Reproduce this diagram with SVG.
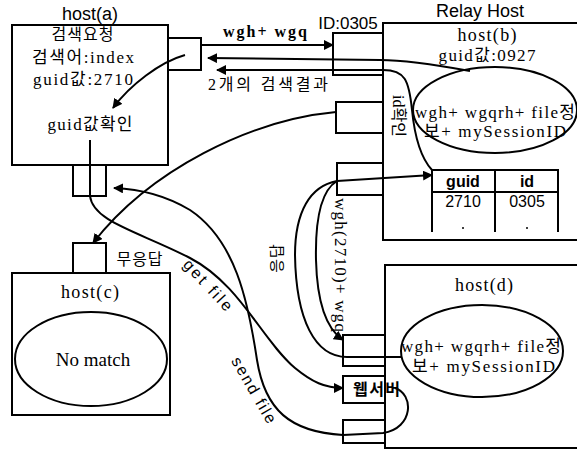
<svg xmlns="http://www.w3.org/2000/svg" width="577" height="450" viewBox="0 0 577 450">
<defs>
<style>
.box{fill:none;stroke:#000;stroke-width:2}
.ln{fill:none;stroke:#000;stroke-width:2}
.sf{font-family:"Liberation Serif","Noto Sans CJK KR",serif;fill:#000}
.ss{font-family:"Liberation Sans","Noto Sans CJK KR",sans-serif;fill:#000}
.m{text-anchor:middle}
</style>
<marker id="ah" viewBox="0 0 10 10" refX="9" refY="5" markerWidth="5" markerHeight="5" orient="auto" markerUnits="strokeWidth">
<path d="M0,0 L10,5 L0,10 z" fill="#000"/>
</marker>
</defs>
<rect width="577" height="450" fill="#fff"/>

<g id="host-a">
<rect class="box" x="12" y="25" width="156" height="140"/>
<text class="ss m" x="90" y="20" font-size="18">host(a)</text>
<text class="sf m" x="83" y="40" font-size="16" letter-spacing="1">검색요청</text>
<text class="sf m" x="83" y="63" font-size="17" textLength="102" lengthAdjust="spacing">검색어:index</text>
<text class="sf m" x="83" y="85" font-size="17" textLength="100" lengthAdjust="spacing">guid값:2710</text>
<text class="sf m" x="90" y="130" font-size="17" textLength="85" lengthAdjust="spacing">guid값확인</text>
<rect class="box" x="168" y="38" width="33" height="32"/>
<rect class="box" x="73" y="165" width="33" height="31"/>
</g>

<g id="host-b">
<rect class="box" x="383" y="23" width="200" height="217"/>
<text class="ss m" x="480" y="17" font-size="18">Relay Host</text>
<text class="sf m" x="487" y="41" font-size="18" textLength="59" lengthAdjust="spacing">host(b)</text>
<text class="sf m" x="487" y="61" font-size="17" textLength="97" lengthAdjust="spacing">guid값:0927</text>
<ellipse class="box" cx="495" cy="110" rx="82" ry="43"/>
<text class="sf" x="415" y="118" font-size="17" textLength="160" lengthAdjust="spacing">wgh+ wgqrh+ file정</text>
<text class="sf" x="424" y="137" font-size="17" textLength="142" lengthAdjust="spacing">보+ mySessionID</text>
<path class="ln" d="M432,232 V170 H558 V232 M495,170 V232 M432,192 H558"/>
<text class="ss m" x="463" y="187" font-size="16" font-weight="bold">guid</text>
<text class="ss m" x="527" y="187" font-size="16" font-weight="bold">id</text>
<text class="ss m" x="463" y="207" font-size="16">2710</text>
<text class="ss m" x="527" y="207" font-size="16">0305</text>
<circle cx="463" cy="228" r="1" fill="#000"/>
<circle cx="527" cy="228" r="1" fill="#000"/>
<rect class="box" x="333" y="33" width="50" height="42"/>
<rect class="box" x="336" y="102" width="47" height="31"/>
<rect class="box" x="337" y="163" width="46" height="32"/>
<text class="ss m" x="348" y="29" font-size="17">ID:0305</text>
</g>

<g id="host-c">
<rect class="box" x="12" y="273" width="158" height="142"/>
<text class="sf m" x="90" y="298" font-size="18" textLength="58" lengthAdjust="spacing">host(c)</text>
<ellipse class="box" cx="91" cy="359" rx="76" ry="47"/>
<text class="sf m" x="93" y="366" font-size="19">No match</text>
<rect class="box" x="73" y="243" width="33" height="30"/>
<text class="sf m" x="140" y="265" font-size="16" letter-spacing="1">무응답</text>
</g>

<g id="host-d">
<rect class="box" x="385" y="265" width="200" height="183"/>
<text class="sf m" x="484" y="291" font-size="18" textLength="58" lengthAdjust="spacing">host(d)</text>
<ellipse class="box" cx="482" cy="351" rx="81" ry="46"/>
<text class="sf" x="401" y="352" font-size="17" textLength="160" lengthAdjust="spacing">wgh+ wgqrh+ file정</text>
<text class="sf" x="412" y="372" font-size="17" textLength="143" lengthAdjust="spacing">보+ mySessionID</text>
<rect class="box" x="343" y="335" width="42" height="31"/>
<rect class="box" x="343" y="376" width="42" height="27"/>
<rect class="box" x="343" y="420" width="42" height="23"/>
<text class="sf" x="353" y="395" font-size="16" font-weight="bold" textLength="47" lengthAdjust="spacing">웹서버</text>
</g>

<g id="connectors">
<path class="ln" d="M185,55 C160,62 130,85 113,108" marker-end="url(#ah)"/>
<path class="ln" d="M201,45 H333" marker-end="url(#ah)"/>
<path class="ln" d="M470,71 Q410,60 380,60 L208,58" marker-end="url(#ah)"/>
<path class="ln" d="M432,170 C418,155 414,130 412,110 C409,80 405,70 383,70 L217,70" marker-end="url(#ah)"/>
<path class="ln" d="M336,112 C250,120 150,170 93,243" marker-end="url(#ah)"/>
<path class="ln" d="M90,140 V196 C93,222 140,232 190,258 C240,284 262,340 295,368 C312,382 325,388 343,388" marker-end="url(#ah)"/>
<path class="ln" d="M395,388 C414,394 414,428 383,433 L343,435 C290,432 265,410 257,360 C248,300 235,240 190,210 C165,195 140,189 114,188" marker-end="url(#ah)"/>
<path class="ln" d="M337,181 L432,175" marker-end="url(#ah)"/>
<path class="ln" d="M337,181 C322,190 315,215 316,260 C317,300 325,328 343,340" marker-end="url(#ah)"/>
<path class="ln" d="M337,181 C310,186 295,212 295,255 C296,320 315,357 347,357 L402,357"/>
<text class="sf m" x="268" y="90" font-size="16" textLength="120" lengthAdjust="spacing">2개의 검색결과</text>
<text class="sf m" x="265" y="37" font-size="16" font-weight="bold" textLength="84" lengthAdjust="spacing">wgh+ wgq</text>
<text class="sf m" font-size="16" dominant-baseline="central" transform="translate(398,116) rotate(90)">id확인</text>
<text class="sf m" font-size="17" dominant-baseline="central" transform="translate(340,265) rotate(90)" textLength="134" lengthAdjust="spacing">wgh(2710)+ wgq</text>
<text class="sf m" font-size="15" dominant-baseline="central" transform="translate(277,258) rotate(-90)" letter-spacing="1">응답</text>
<text class="ss m" font-size="16" dominant-baseline="central" transform="translate(208,285) rotate(47)" textLength="64" lengthAdjust="spacing">get file</text>
<text class="ss m" font-size="16" dominant-baseline="central" transform="translate(254,390) rotate(60)" textLength="74" lengthAdjust="spacing">send file</text>
</g>
</svg>
